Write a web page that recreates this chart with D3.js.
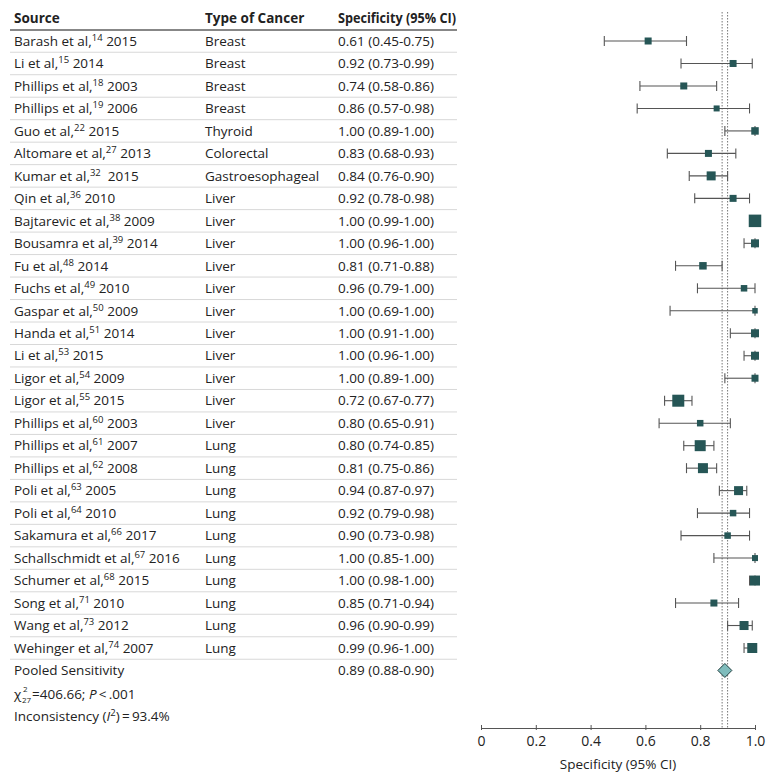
<!DOCTYPE html>
<html><head><meta charset="utf-8">
<script src="https://cdn.jsdelivr.net/npm/d3@7"></script>
<style>body{margin:0;background:#fff}svg{display:block}text{font-family:"Open Sans","Noto Sans",sans-serif;fill:#222}</style>
</head><body><svg id="c" width="780" height="780"></svg>
<script>
const authors=["Barash et al,","Li et al,","Phillips et al,","Phillips et al,","Guo et al,","Altomare et al,","Kumar et al,","Qin et al,","Bajtarevic et al,","Bousamra et al,","Fu et al,","Fuchs et al,","Gaspar et al,","Handa et al,","Li et al,","Ligor et al,","Ligor et al,","Phillips et al,","Phillips et al,","Phillips et al,","Poli et al,","Poli et al,","Sakamura et al,","Schallschmidt et al,","Schumer et al,","Song et al,","Wang et al,","Wehinger et al,"];
const refs=["14","15","18","19","22","27","32","36","38","39","48","49","50","51","53","54","55","60","61","62","63","64","66","67","68","71","73","74"];
const years=["2015","2014","2003","2006","2015","2013","2015","2010","2009","2014","2014","2010","2009","2014","2015","2009","2015","2003","2007","2008","2005","2010","2017","2016","2015","2010","2012","2007"];
const cancers=["Breast","Breast","Breast","Breast","Thyroid","Colorectal","Gastroesophageal","Liver","Liver","Liver","Liver","Liver","Liver","Liver","Liver","Liver","Liver","Liver","Lung","Lung","Lung","Lung","Lung","Lung","Lung","Lung","Lung","Lung"];
const spec=[0.61,0.92,0.74,0.86,1.00,0.83,0.84,0.92,1.00,1.00,0.81,0.96,1.00,1.00,1.00,1.00,0.72,0.80,0.80,0.81,0.94,0.92,0.90,1.00,1.00,0.85,0.96,0.99];
const lo=[0.45,0.73,0.58,0.57,0.89,0.68,0.76,0.78,0.99,0.96,0.71,0.79,0.69,0.91,0.96,0.89,0.67,0.65,0.74,0.75,0.87,0.79,0.73,0.85,0.98,0.71,0.90,0.96];
const hi=[0.75,0.99,0.86,0.98,1.00,0.93,0.90,0.98,1.00,1.00,0.88,1.00,1.00,1.00,1.00,1.00,0.77,0.91,0.85,0.86,0.97,0.98,0.98,1.00,1.00,0.94,0.99,1.00];
const weights=[7,7,7,6,7.5,7,9,7,12.5,8,7.5,6.5,5.5,8,8,7,12,6.5,11,10,9,6.5,6.5,6,10,7,9,10];
const pooled={est:0.89,lo:0.88,hi:0.90};
const xTicks=[0,0.2,0.4,0.6,0.8,1.0];

const svg=d3.select("#c");
const f2=d3.format(".2f");
const rowY=d3.scaleLinear().domain([0,27]).range([41,648]);
const step=rowY(1)-rowY(0);
const x=d3.scaleLinear().domain([0,1]).range([481,755]);
const colSrc=14,colType=205,colSpec=338,tblL=10,tblR=457;
const fs=13.5, sfs=9.5;

// header
const hdr=svg.append("g").attr("font-size",fs).attr("font-weight","bold");
hdr.append("text").attr("x",colSrc).attr("y",18).attr("dy","0.35em").text("Source");
hdr.append("text").attr("x",colType).attr("y",18).attr("dy","0.35em").text("Type of Cancer");
hdr.append("text").attr("x",colSpec).attr("y",18).attr("dy","0.35em").attr("textLength",118).attr("lengthAdjust","spacingAndGlyphs").text("Specificity (95% CI)");
svg.append("line").attr("x1",tblL).attr("x2",tblR).attr("y1",30).attr("y2",30).attr("stroke","#111").attr("stroke-width",1.2);

// separators
svg.append("g").selectAll("line").data(d3.range(28)).join("line")
 .attr("x1",tblL).attr("x2",tblR).attr("y1",i=>rowY(i)+step/2).attr("y2",i=>rowY(i)+step/2)
 .attr("stroke","#d8d8d8").attr("stroke-width",1);

const rows=svg.append("g").attr("font-size",fs);
authors.forEach((a,i)=>{
  const y=rowY(i);
  const t=rows.append("text").attr("x",colSrc).attr("y",y).attr("dy","0.35em");
  t.append("tspan").text(a);
  t.append("tspan").attr("font-size",sfs).attr("dy",-5).text(refs[i]);
  t.append("tspan").attr("dy",5).text((i===6?"\u00a0 ":" ")+years[i]);
  rows.append("text").attr("x",colType).attr("y",y).attr("dy","0.35em").text(cancers[i]);
  rows.append("text").attr("x",colSpec).attr("y",y).attr("dy","0.35em").text(`${f2(spec[i])} (${f2(lo[i])}-${f2(hi[i])})`);
});
const yP=rowY(28);
rows.append("text").attr("x",colSrc).attr("y",yP).attr("dy","0.35em").text("Pooled Sensitivity");
rows.append("text").attr("x",colSpec).attr("y",yP).attr("dy","0.35em").text(`${f2(pooled.est)} (${f2(pooled.lo)}-${f2(pooled.hi)})`);
// chi line
const yC=rowY(29)+1;
rows.append("text").attr("x",colSrc).attr("y",yC).attr("dy","0.35em").text("\u03c7");
rows.append("text").attr("x",colSrc+9).attr("y",yC-5).attr("dy","0.35em").attr("font-size",8).text("2");
rows.append("text").attr("x",colSrc+8).attr("y",yC+6).attr("dy","0.35em").attr("font-size",8).text("27");
const ct=rows.append("text").attr("x",colSrc+18).attr("y",yC).attr("dy","0.35em");
ct.append("tspan").text("=406.66; ");
ct.append("tspan").attr("font-style","italic").text("P");
ct.append("tspan").text("\u2009<\u2009.001");
const it=rows.append("text").attr("x",colSrc).attr("y",rowY(30)+1).attr("dy","0.35em");
it.append("tspan").text("Inconsistency (");
it.append("tspan").attr("font-style","italic").text("I");
it.append("tspan").attr("font-size",sfs).attr("dy",-5).text("2");
it.append("tspan").attr("dy",5).text(")\u2009=\u200993.4%");

// dotted reference lines
svg.append("g").selectAll("line").data([pooled.lo,pooled.hi]).join("line")
 .attr("x1",d=>x(d)).attr("x2",d=>x(d)).attr("y1",12).attr("y2",728)
 .attr("stroke","#777").attr("stroke-width",1).attr("stroke-dasharray","1.5,1.5");

// CIs
const ci=svg.append("g").attr("stroke","#555").attr("stroke-width",1.1);
spec.forEach((s,i)=>{
  const y=rowY(i);
  if(hi[i]>lo[i]){
    ci.append("line").attr("x1",x(lo[i])).attr("x2",x(hi[i])).attr("y1",y).attr("y2",y);
    ci.append("line").attr("x1",x(lo[i])).attr("x2",x(lo[i])).attr("y1",y-5).attr("y2",y+5);
    ci.append("line").attr("x1",x(hi[i])).attr("x2",x(hi[i])).attr("y1",y-5).attr("y2",y+5);
  }
});
svg.append("g").selectAll("rect").data(spec).join("rect")
 .attr("x",(d,i)=>x(d)-weights[i]/2).attr("y",(d,i)=>rowY(i)-weights[i]/2)
 .attr("width",(d,i)=>weights[i]).attr("height",(d,i)=>weights[i]).attr("fill","#265656");

// diamond
const dh=7;
svg.append("path").attr("d",`M${x(pooled.est)-7},${yP} L${x(pooled.est)},${yP-dh} L${x(pooled.est)+7},${yP} L${x(pooled.est)},${yP+dh} Z`)
 .attr("fill","#7fbcbc").attr("stroke","#1e3c3c").attr("stroke-width",1);

// axis
const ax=svg.append("g").attr("transform","translate(0,728)")
 .call(d3.axisBottom(x).tickValues(xTicks).tickFormat(d=>d===0?"0":d3.format(".1f")(d)).tickSize(4).tickSizeOuter(0));
ax.select(".domain").attr("stroke","#555");
ax.selectAll(".tick line").attr("stroke","#555").attr("y1",-3).attr("y2",2);
ax.selectAll(".tick text").attr("font-size",14).attr("font-family",null).attr("fill","#222").attr("y",8);
svg.append("text").attr("x",x(0.5)).attr("y",764).attr("dy","0.35em").attr("text-anchor","middle").attr("font-size",13.5).text("Specificity (95% CI)");
</script></body></html>
